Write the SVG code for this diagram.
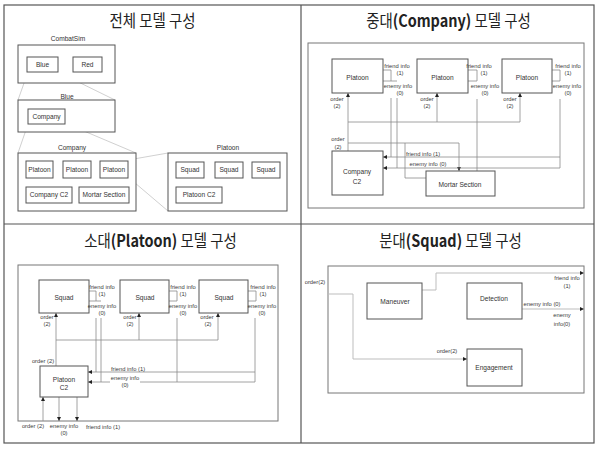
<svg xmlns="http://www.w3.org/2000/svg" width="606" height="451" viewBox="0 0 606 451">
<defs>
<marker id="ah" markerWidth="4" markerHeight="4" refX="4" refY="2" orient="auto" markerUnits="userSpaceOnUse">
<path d="M0,0 L4,2 L0,4 z" fill="#222"/>
</marker>
<style>
.frame{fill:none;stroke:#555;stroke-width:1.2}
.big{fill:none;stroke:#777;stroke-width:1}
.box{fill:#fff;stroke:#555;stroke-width:1}
.ln{fill:none;stroke:#8a8a8a;stroke-width:0.8}
.lt{fill:none;stroke:#bdbdbd;stroke-width:1}
.zl{fill:none;stroke:#c4c4c4;stroke-width:0.8}
.arr{marker-end:url(#ah)}
.title{font-family:"Noto Sans CJK KR","Noto Sans",sans-serif;font-size:16.5px;fill:#222;text-anchor:middle}
.t{font-family:"Liberation Sans",Arial,sans-serif;font-size:6.6px;fill:#333;text-anchor:middle}
.l{font-family:"Liberation Sans",Arial,sans-serif;font-size:5.8px;fill:#3a3a3a;text-anchor:middle}
</style>
</defs>
<rect width="606" height="451" fill="#fff"/>
<g id="frame">
<rect class="frame" x="4" y="5" width="590" height="438"/>
<line class="frame" x1="301" y1="5" x2="301" y2="443"/>
<line class="frame" x1="4" y1="224" x2="594" y2="224"/>
</g>
<g id="titles">
<g transform="translate(152.5,26.5) scale(0.875,1)"><text class="title" x="0" y="0">전체 모델 구성</text></g>
<g transform="translate(448.5,27) scale(0.875,1)"><text class="title" x="0" y="0">중대<tspan font-weight="bold">(Company)</tspan> 모델 구성</text></g>
<g transform="translate(160.5,247) scale(0.875,1)"><text class="title" x="0" y="0">소대<tspan font-weight="bold">(Platoon)</tspan> 모델 구성</text></g>
<g transform="translate(450.5,247) scale(0.875,1)"><text class="title" x="0" y="0">분대<tspan font-weight="bold">(Squad)</tspan> 모델 구성</text></g>
</g>

<!-- Quadrant 1 -->
<g id="q1-connectors">
<line class="zl" x1="28" y1="72" x2="18" y2="100"/>
<line class="zl" x1="58" y1="72" x2="115" y2="100"/>
<line class="zl" x1="28" y1="124" x2="18" y2="153"/>
<line class="zl" x1="65" y1="123" x2="136" y2="153"/>
<line class="zl" x1="128" y1="160" x2="168" y2="153"/>
<line class="zl" x1="128" y1="177" x2="168" y2="211"/>
</g>
<g id="q1-combatsim"><text class="t" x="68" y="41.3">CombatSim</text><rect class="box" x="18" y="45" width="97" height="38"/></g>
<g id="q1-blue-node"><rect class="box" x="27" y="57" width="31" height="15"/><text class="t" x="42.5" y="66.8">Blue</text></g>
<g id="q1-red-node"><rect class="box" x="73" y="57" width="29" height="15"/><text class="t" x="87.5" y="66.8">Red</text></g>
<g id="q1-blue"><text class="t" x="67" y="99.3">Blue</text><rect class="box" x="18" y="100" width="97" height="32"/></g>
<g id="q1-company-node"><rect class="box" x="28" y="109" width="37" height="15"/><text class="t" x="46.5" y="118.8">Company</text></g>
<g id="q1-company"><text class="t" x="72" y="150.3">Company</text><rect class="box" x="18" y="153" width="118" height="58"/></g>
<g id="q1-platoon1"><rect class="box" x="26" y="161" width="27" height="17"/><text class="t" x="39.5" y="171.8">Platoon</text></g>
<g id="q1-platoon2"><rect class="box" x="63" y="161" width="28" height="17"/><text class="t" x="77" y="171.8">Platoon</text></g>
<g id="q1-platoon3"><rect class="box" x="100" y="161" width="28" height="17"/><text class="t" x="114" y="171.8">Platoon</text></g>
<g id="q1-companyc2"><rect class="box" x="26" y="187" width="46" height="16"/><text class="t" x="49" y="197.3">Company C2</text></g>
<g id="q1-mortar"><rect class="box" x="79" y="187" width="50" height="16"/><text class="t" x="104" y="197.3">Mortar Section</text></g>
<g id="q1-platoon"><text class="t" x="228" y="150.3">Platoon</text><rect class="box" x="168" y="153" width="119" height="58"/></g>
<g id="q1-squad1"><rect class="box" x="176" y="162" width="28" height="16"/><text class="t" x="190" y="172.3">Squad</text></g>
<g id="q1-squad2"><rect class="box" x="215" y="162" width="28" height="16"/><text class="t" x="229" y="172.3">Squad</text></g>
<g id="q1-squad3"><rect class="box" x="252" y="162" width="28" height="16"/><text class="t" x="266" y="172.3">Squad</text></g>
<g id="q1-platoonc2"><rect class="box" x="176" y="187" width="46" height="16"/><text class="t" x="199" y="197.3">Platoon C2</text></g>

<!-- Quadrant 2 -->
<g id="q2-frame"><rect class="big" x="308" y="43" width="276" height="165"/></g>
<g id="q2-connectors">
<path class="ln arr" d="M348,151 V93"/>
<path class="ln" d="M348,122 H520"/>
<path class="ln arr" d="M437,122 V93"/>
<path class="ln arr" d="M520,122 V93"/>
<path class="ln arr" d="M348,143 H459 V171"/>
<path class="ln" d="M405,143 V178 H426"/>
<path class="ln" d="M383,70 H391 V81 M383,81 H397"/>
<path class="ln" d="M468,70 H477 V81 M468,81 H477"/>
<path class="ln" d="M552,70 H560 V81 M552,81 H560"/>
<path class="ln" d="M391,98 V157"/>
<path class="ln" d="M397,98 V168"/>
<path class="ln" d="M477,99 V171"/>
<path class="ln" d="M560,99 V168"/>
<path class="ln arr" d="M560,157 H383"/>
<path class="ln arr" d="M560,168 H383"/>
</g>
<g id="q2-platoon1"><rect class="box" x="332" y="59" width="51" height="34"/><text class="t" x="357.5" y="80.3">Platoon</text></g>
<g id="q2-platoon2"><rect class="box" x="417" y="59" width="51" height="34"/><text class="t" x="442.5" y="80.3">Platoon</text></g>
<g id="q2-platoon3"><rect class="box" x="502" y="59" width="50" height="34"/><text class="t" x="527" y="80.3">Platoon</text></g>
<g id="q2-companyc2"><rect class="box" x="332" y="151" width="51" height="44"/><text class="t" x="357" y="174.3">Company</text><text class="t" x="357" y="184.3">C2</text></g>
<g id="q2-mortar"><rect class="box" x="426" y="171" width="69" height="25"/><text class="t" x="460" y="187.3">Mortar Section</text></g>
<g id="q2-labels">
<text class="l" x="397" y="68">friend info</text><text class="l" x="400" y="75">(1)</text>
<text class="l" x="398" y="88">enemy info</text><text class="l" x="400" y="95">(0)</text>
<text class="l" x="479" y="68">friend info</text><text class="l" x="484" y="75">(1)</text>
<text class="l" x="485" y="88">enemy info</text><text class="l" x="485" y="95">(0)</text>
<text class="l" x="568" y="68">friend info</text><text class="l" x="568" y="75">(1)</text>
<text class="l" x="567" y="88">enemy info</text><text class="l" x="568" y="95">(0)</text>
<text class="l" x="337" y="101">order</text><text class="l" x="337" y="108">(2)</text>
<text class="l" x="427" y="101">order</text><text class="l" x="427" y="108">(2)</text>
<text class="l" x="510" y="101">order</text><text class="l" x="510" y="108">(2)</text>
<text class="l" x="338" y="141">order</text><text class="l" x="338" y="149">(2)</text>
<text class="l" x="423" y="156">friend info (1)</text>
<text class="l" x="428" y="166">enemy info (0)</text>
</g>

<!-- Quadrant 3 -->
<g id="q3-frame"><rect class="big" x="18" y="265" width="260" height="156"/></g>
<g id="q3-connectors">
<path class="ln arr" d="M56,366 V313"/>
<path class="ln" d="M56,340 H218"/>
<path class="ln arr" d="M139,340 V313"/>
<path class="ln arr" d="M218,340 V313"/>
<path class="ln" d="M89,291 H96 V301 M89,301 H101"/>
<path class="ln" d="M169,291 H177 V301 M169,301 H177"/>
<path class="ln" d="M248,291 H256 V301 M248,301 H256"/>
<path class="ln" d="M96,318 V372"/>
<path class="ln" d="M101,318 V382"/>
<path class="ln" d="M177,318 V382"/>
<path class="ln" d="M255,318 V382"/>
<path class="ln arr" d="M255,372 H88"/>
<path class="ln" d="M255,382 H140"/>
<path class="ln arr" d="M110,382 H88"/>
<path class="ln arr" d="M43,421 V397"/>
<path class="ln arr" d="M59,397 V421"/>
<path class="ln arr" d="M77,397 V421"/>
</g>
<g id="q3-squad1"><rect class="box" x="39" y="280" width="50" height="33"/><text class="t" x="64" y="300.3">Squad</text></g>
<g id="q3-squad2"><rect class="box" x="120" y="280" width="49" height="33"/><text class="t" x="145" y="300.3">Squad</text></g>
<g id="q3-squad3"><rect class="box" x="199" y="280" width="49" height="33"/><text class="t" x="224" y="300.3">Squad</text></g>
<g id="q3-platoonc2"><rect class="box" x="40" y="366" width="48" height="31"/><text class="t" x="64" y="382.3">Platoon</text><text class="t" x="64" y="390.3">C2</text></g>
<g id="q3-labels">
<text class="l" x="102" y="289">friend info</text><text class="l" x="102" y="296">(1)</text>
<text class="l" x="102" y="308">enemy info</text><text class="l" x="102" y="315">(0)</text>
<text class="l" x="183" y="289">friend info</text><text class="l" x="183" y="296">(1)</text>
<text class="l" x="183" y="308">enemy info</text><text class="l" x="183" y="315">(0)</text>
<text class="l" x="263" y="289">friend info</text><text class="l" x="263" y="296">(1)</text>
<text class="l" x="262" y="308">enemy info</text><text class="l" x="262" y="315">(0)</text>
<text class="l" x="47" y="319">order</text><text class="l" x="47" y="326">(2)</text>
<text class="l" x="130" y="319">order</text><text class="l" x="130" y="326">(2)</text>
<text class="l" x="207" y="319">order</text><text class="l" x="208" y="326">(2)</text>
<text class="l" x="43" y="363">order (2)</text>
<text class="l" x="128" y="371">friend info (1)</text>
<text class="l" x="125" y="380">enemy info</text><text class="l" x="125" y="387">(0)</text>
<text class="l" x="33" y="428">order (2)</text>
<text class="l" x="64" y="428">enemy info</text><text class="l" x="64" y="435">(0)</text>
<text class="l" x="103" y="429">friend info (1)</text>
</g>

<!-- Quadrant 4 -->
<g id="q4-frame"><rect class="big" x="328" y="266" width="256" height="127"/></g>
<g id="q4-connectors">
<path class="lt arr" d="M328,294 H353 V359 H467"/>
<path class="lt arr" d="M422,290 H436 V273 H584"/>
<path class="lt arr" d="M522,309 H584"/>
</g>
<g id="q4-maneuver"><rect class="box" x="367" y="283" width="55" height="36"/><text class="t" x="395" y="304.3">Maneuver</text></g>
<g id="q4-detection"><rect class="box" x="467" y="283" width="55" height="36"/><text class="t" x="494" y="301.3">Detection</text></g>
<g id="q4-engagement"><rect class="box" x="467" y="349" width="55" height="37"/><text class="t" x="494" y="370.3">Engagement</text></g>
<g id="q4-labels">
<text class="l" x="315" y="284">order(2)</text>
<text class="l" x="447" y="353">order(2)</text>
<text class="l" x="567" y="280">friend info</text><text class="l" x="567" y="288">(1)</text>
<text class="l" x="542" y="306">enemy info (0)</text>
<text class="l" x="562" y="317">enemy</text><text class="l" x="562" y="326">info(0)</text>
</g>
</svg>
